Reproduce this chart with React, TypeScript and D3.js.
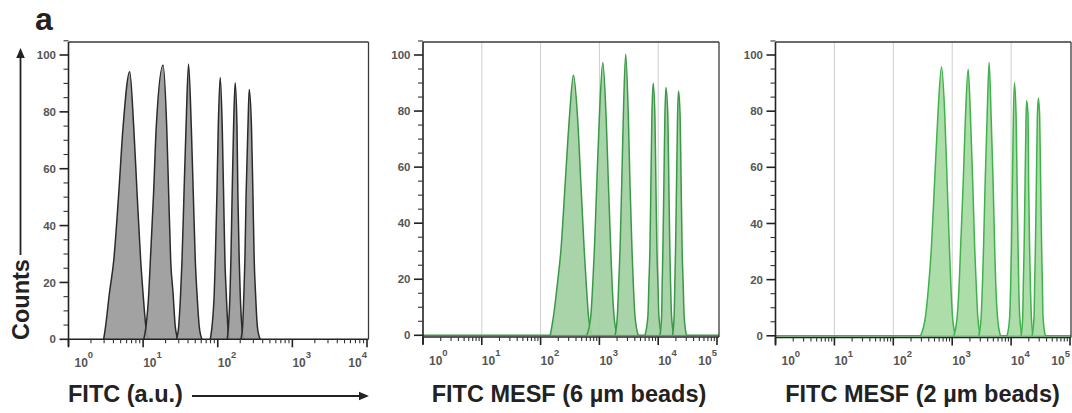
import React from "react";
import * as d3 from "d3";

// ---------- DATA ----------
// Each peak: [fluorescence value, counts] outline points
const auPeaks: [number, number][][] = [
  [[2.96,0],[3.13,4.3],[3.53,16.1],[4.04,27.8],[4.71,51.3],[5.39,74.8],[6.61,94.1],[7.48,74.8],[8.3,51.3],[9.27,27.8],[9.98,16.1],[10.9,4.3],[11.9,0]],
  [[10.2,0],[10.9,4.3],[11.9,16.1],[12.5,27.8],[13.8,51.3],[15.0,74.8],[18.5,96.5],[20.7,74.8],[22.0,51.3],[23.4,27.8],[25.2,16.1],[27.0,4.3],[29.4,0]],
  [[27.9,0],[29.9,4.3],[31.8,16.1],[33.2,27.8],[35.3,51.3],[37.6,74.8],[40.6,96.8],[44.2,74.8],[47.0,51.3],[50.0,27.8],[52.7,16.1],[56.6,4.3],[61.5,0]],
  [[79.4,0],[83.6,4.3],[89.7,16.1],[92.7,27.8],[97.5,51.3],[101.6,74.8],[107.9,92.1],[114.8,74.8],[119.7,51.3],[124.7,27.8],[130.0,16.1],[136.8,4.3],[143.9,0]],
  [[134,0],[139,4.3],[146,16.1],[150,27.8],[156,51.3],[163,74.8],[171,90.2],[181,74.8],[186,51.3],[194,27.8],[200,16.1],[211,4.3],[226,0]],
  [[204,0],[215,4.3],[224,16.1],[231,27.8],[240,51.3],[254,74.8],[264,87.9],[283,74.8],[296,51.3],[308,27.8],[321,16.1],[340,4.3],[371,0]],
];

const mesf6Peaks: [number, number][][] = [
  [[146,0],[166,6.9],[194,18.8],[222,30.6],[262,54.3],[310,78.2],[362,92.9],[424,78.2],[484,54.3],[551,30.6],[596,18.8],[652,6.9],[743,0]],
  [[611,0],[714,6.9],[773,18.8],[822,30.6],[904,54.3],[1000,78.2],[1143,97.3],[1300,78.2],[1422,54.3],[1560,30.6],[1641,18.8],[1774,6.9],[2018,0]],
  [[1845,0],[2018,6.9],[2133,18.8],[2244,30.6],[2399,54.3],[2553,78.2],[2799,100.4],[3105,78.2],[3311,54.3],[3581,30.6],[3767,18.8],[4027,6.9],[4581,0]],
  [[5957,0],[6683,6.9],[6950,18.8],[7228,30.6],[7516,54.3],[7816,78.2],[8222,89.9],[8790,78.2],[9141,54.3],[9506,30.6],[9886,18.8],[10280,6.9],[11430,0]],
  [[10690,0],[11430,6.9],[11700,18.8],[12020,30.6],[12500,54.3],[13000,78.2],[13520,88.4],[14590,78.2],[15170,54.3],[15780,30.6],[16220,18.8],[16870,6.9],[18450,0]],
  [[17540,0],[18660,6.9],[19190,18.8],[19720,30.6],[20510,54.3],[21330,78.2],[22180,87.2],[23600,78.2],[24550,54.3],[25530,30.6],[26550,18.8],[27610,6.9],[30270,0]],
];

const mesf2Peaks: [number, number][][] = [
  [[290,0],[352,6.9],[401,18.8],[441,30.6],[501,54.3],[570,78.2],[659,95.8],[750,78.2],[822,54.3],[900,30.6],[946,18.8],[1012,6.9],[1138,0]],
  [[1064,0],[1216,6.9],[1315,18.8],[1384,30.6],[1535,54.3],[1679,78.2],[1866,94.9],[2042,78.2],[2234,54.3],[2415,30.6],[2553,18.8],[2716,6.9],[3020,0]],
  [[2825,0],[3105,6.9],[3266,18.8],[3396,30.6],[3622,54.3],[3917,78.2],[4236,97.3],[4581,78.2],[4955,54.3],[5272,30.6],[5483,18.8],[5861,6.9],[6592,0]],
  [[8551,0],[9462,6.9],[9840,18.8],[10120,30.6],[10520,54.3],[10940,78.2],[11380,90.1],[12160,78.2],[12650,54.3],[13150,30.6],[13460,18.8],[14000,6.9],[15350,0]],
  [[14760,0],[15740,6.9],[16140,18.8],[16600,30.6],[17260,54.3],[17950,78.2],[18370,83.7],[19410,78.2],[19860,54.3],[20650,30.6],[21230,18.8],[22080,6.9],[23600,0]],
  [[22700,0],[24550,6.9],[25120,18.8],[25820,30.6],[26850,54.3],[27920,78.2],[29040,84.6],[30550,78.2],[31770,54.3],[33040,30.6],[33960,18.8],[34830,6.9],[38110,0]],
];

const yTickValues = [0, 20, 40, 60, 80, 100];
const panelTitles = ["FITC (a.u.)", "FITC MESF (6 µm beads)", "FITC MESF (2 µm beads)"];
const panelMaxExp = [4, 5, 5];
const yAxisLabel = "Counts";
const panelLetter = "a";

// ---------- LAYOUT ----------
const FONT = "'Liberation Sans', Arial, Helvetica, sans-serif";
const TOP = 42;

type PanelCfg = {
  peaks: [number, number][][];
  maxExp: number;
  left: number;
  right: number;
  boxRight: number;
  zeroY: number;
  hundredY: number;
  axisY: number;
  fill: string;
  stroke: string;
  grid: boolean;
  baseline: boolean;
};

const panels: PanelCfg[] = [
  { peaks: auPeaks, maxExp: panelMaxExp[0], left: 68.5, right: 367, boxRight: 368.5, zeroY: 339.3, hundredY: 55, axisY: 339.3, fill: "#9b9b9b", stroke: "#2b2b2b", grid: false, baseline: false },
  { peaks: mesf6Peaks, maxExp: panelMaxExp[1], left: 423, right: 717, boxRight: 719, zeroY: 335.3, hundredY: 55, axisY: 337, fill: "#a3d0a1", stroke: "#3a9947", grid: true, baseline: true },
  { peaks: mesf2Peaks, maxExp: panelMaxExp[2], left: 775.5, right: 1070, boxRight: 1071, zeroY: 335.8, hundredY: 55, axisY: 337.5, fill: "#a7daa3", stroke: "#3fb24b", grid: true, baseline: true },
];

function Panel({ p }: { p: PanelCfg }) {
  const x = d3.scaleLog().domain([1, Math.pow(10, p.maxExp)]).range([p.left, p.right]);
  const y = d3.scaleLinear().domain([0, 100]).range([p.zeroY, p.hundredY]);
  const area = d3
    .area<[number, number]>()
    .x((d) => x(d[0]))
    .y0(y(0))
    .y1((d) => y(d[1]))
    .curve(d3.curveMonotoneX);
  const line = d3
    .line<[number, number]>()
    .x((d) => x(d[0]))
    .y((d) => y(d[1]))
    .curve(d3.curveMonotoneX);

  const majors = d3.range(0, p.maxExp + 1).map((e) => Math.pow(10, e));
  const minors: number[] = [];
  for (let e = 0; e < p.maxExp; e++) for (let m = 2; m <= 9; m++) minors.push(m * Math.pow(10, e));
  const yMinor = d3.range(0, 105.1, 5).filter((v) => v % 20 !== 0);

  return (
    <g>
      {p.grid &&
        majors.slice(1, -1).map((v) => (
          <line key={"g" + v} x1={x(v)} x2={x(v)} y1={TOP} y2={p.axisY} stroke="#cdcdcd" strokeWidth={1} />
        ))}
      {p.baseline && (
        <line x1={p.left} x2={p.boxRight} y1={y(0)} y2={y(0)} stroke={p.stroke} strokeWidth={1.4} />
      )}
      {p.peaks.map((pk, i) => (
        <g key={i}>
          <path d={area(pk) || ""} fill={p.fill} fillOpacity={0.93} />
          <path d={line(pk) || ""} fill="none" stroke={p.stroke} strokeWidth={1.5} strokeLinejoin="round" />
        </g>
      ))}
      {/* box */}
      <line x1={p.left} x2={p.boxRight} y1={TOP} y2={TOP} stroke="#3a3a3a" strokeWidth={1.3} />
      <line x1={p.boxRight} x2={p.boxRight} y1={TOP} y2={p.axisY} stroke="#3a3a3a" strokeWidth={1.3} />
      <line x1={p.left} x2={p.boxRight} y1={p.axisY} y2={p.axisY} stroke="#222" strokeWidth={1.6} />
      <line x1={p.left} x2={p.left} y1={TOP} y2={p.axisY + 7} stroke="#222" strokeWidth={1.6} />
      {/* y ticks */}
      {yTickValues.map((v) => (
        <g key={"yt" + v}>
          <line x1={p.left - 9} x2={p.left} y1={y(v)} y2={y(v)} stroke="#222" strokeWidth={1.6} />
          <text
            x={p.left - 12.5}
            y={y(v)}
            dy="0.36em"
            textAnchor="end"
            fontFamily={FONT}
            fontSize={11.5}
            fontWeight={700}
            fill="#555"
          >
            {v}
          </text>
        </g>
      ))}
      {yMinor.map((v) => (
        <line key={"ym" + v} x1={p.left - 5} x2={p.left} y1={y(v)} y2={y(v)} stroke="#333" strokeWidth={1.1} />
      ))}
      {/* x ticks */}
      {majors.map((v) => (
        <line key={"xt" + v} x1={x(v)} x2={x(v)} y1={p.axisY} y2={p.axisY + 8} stroke="#222" strokeWidth={1.6} />
      ))}
      {minors.map((v) => (
        <line key={"xm" + v} x1={x(v)} x2={x(v)} y1={p.axisY} y2={p.axisY + 4} stroke="#333" strokeWidth={1.1} />
      ))}
      {majors.map((v, i) => {
        const first = i === 0;
        const last = i === majors.length - 1;
        const tx = first ? x(v) + 6 : x(v);
        return (
          <text
            key={"xl" + v}
            x={tx}
            y={p.axisY + 27.5}
            textAnchor={last ? "end" : "start"}
            fontFamily={FONT}
            fontSize={12}
            fontWeight={700}
            fill="#555"
          >
            10
            <tspan fontSize={9.5} dy={-8.5}>
              {String(i)}
            </tspan>
          </text>
        );
      })}
    </g>
  );
}

export default function App() {
  return (
    <svg
      width={1072}
      height={413}
      viewBox="0 0 1072 413"
      style={{ position: "absolute", left: 0, top: 0, background: "#fff" }}
    >
      <rect x={0} y={0} width={1072} height={413} fill="#fff" />
      <text x={35} y={30} fontFamily={FONT} fontSize={32} fontWeight={700} fill="#222">
        {panelLetter}
      </text>
      {panels.map((p, i) => (
        <Panel key={i} p={p} />
      ))}
      {/* y label with arrow */}
      <text
        transform="translate(28.5,340) rotate(-90)"
        fontFamily={FONT}
        fontSize={23.5}
        fontWeight={700}
        fill="#222"
      >
        {yAxisLabel}
      </text>
      <line x1={20.5} x2={20.5} y1={255} y2={56} stroke="#222" strokeWidth={1.8} />
      <path d="M20.5,48 L16.2,58 L24.8,58 Z" fill="#222" />
      {/* x titles */}
      <text x={68} y={402} fontFamily={FONT} fontSize={23.5} fontWeight={700} fill="#222">
        {panelTitles[0]}
      </text>
      <line x1={192} x2={360} y1={396} y2={396} stroke="#222" strokeWidth={1.8} />
      <path d="M369,396 L359,391.7 L359,400.3 Z" fill="#222" />
      <text x={569} y={402} textAnchor="middle" fontFamily={FONT} fontSize={23.5} fontWeight={700} fill="#222">
        {panelTitles[1]}
      </text>
      <text x={922.5} y={402} textAnchor="middle" fontFamily={FONT} fontSize={23.5} fontWeight={700} fill="#222">
        {panelTitles[2]}
      </text>
    </svg>
  );
}
